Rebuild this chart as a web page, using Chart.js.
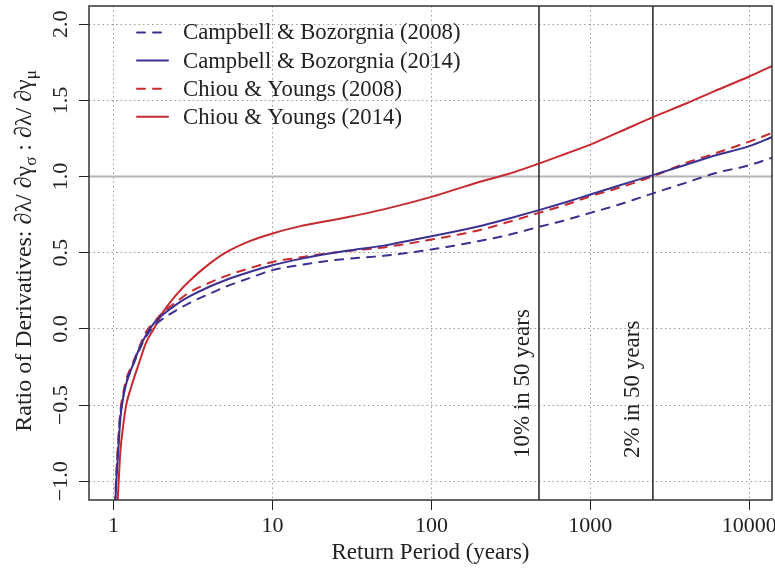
<!DOCTYPE html>
<html>
<head>
<meta charset="utf-8">
<script src="https://cdn.jsdelivr.net/npm/chart.js@4.4.1/dist/chart.umd.min.js"></script>
<style>
html, body { margin: 0; padding: 0; background: #fff; }
</style>
</head>
<body>
<canvas id="myChart" width="775" height="571"></canvas>
<script>
'use strict';

var returnPeriods = [1.02, 1.04, 1.07, 1.1, 1.15, 1.2, 1.3, 1.45, 1.6, 1.8, 2, 2.5, 3, 4, 5, 7, 10, 15, 20, 30, 50, 100, 200, 300, 475, 700, 1000, 1500, 2475, 4000, 6000, 10000, 14000];

var cb2008 = [-1.17, -0.97, -0.75, -0.57, -0.44, -0.35, -0.26, -0.14, -0.05, 0.02, 0.06, 0.125, 0.17, 0.23, 0.275, 0.33, 0.386, 0.42, 0.44, 0.461, 0.48, 0.522, 0.577, 0.615, 0.67, 0.715, 0.762, 0.815, 0.89, 0.96, 1.02, 1.075, 1.125];
var cb2014 = [-1.2, -1.0, -0.8, -0.6, -0.45, -0.36, -0.255, -0.13, -0.04, 0.04, 0.086, 0.163, 0.213, 0.277, 0.318, 0.37, 0.418, 0.46, 0.485, 0.515, 0.547, 0.609, 0.674, 0.722, 0.78, 0.832, 0.883, 0.94, 1.01, 1.078, 1.137, 1.2, 1.26];
var cy2008 = [-1.15, -0.95, -0.73, -0.55, -0.42, -0.33, -0.24, -0.12, -0.02, 0.045, 0.1, 0.18, 0.24, 0.303, 0.345, 0.395, 0.44, 0.47, 0.49, 0.512, 0.535, 0.587, 0.648, 0.7, 0.762, 0.815, 0.871, 0.925, 1.003, 1.09, 1.15, 1.23, 1.288];
var cy2014 = [-1.5, -1.3, -1.05, -0.82, -0.63, -0.5, -0.37, -0.22, -0.09, 0.005, 0.094, 0.228, 0.315, 0.427, 0.498, 0.572, 0.627, 0.675, 0.7, 0.735, 0.785, 0.867, 0.965, 1.015, 1.086, 1.15, 1.21, 1.29, 1.39, 1.48, 1.56, 1.657, 1.727];

var seriesLabels = ['Campbell & Bozorgnia (2008)', 'Campbell & Bozorgnia (2014)', 'Chiou & Youngs (2008)', 'Chiou & Youngs (2014)'];

var xTicks = [1, 10, 100, 1000, 10000];
var yTicks = [-1, -0.5, 0, 0.5, 1, 1.5, 2];

var markerPeriods = [475, 2475];
var markerLabels = ['10% in 50 years', '2% in 50 years'];

(function() {

    var BLUE = '#3b3191';
    var RED = '#c62a2f';
    var FONT = '"Liberation Serif", "Times New Roman", serif';
    var FS = 23;

    function points(vals) {
        return vals.map(function(v, i) { return { x: returnPeriods[i], y: v }; });
    }

    function minus(s) {
        return s.replace('-', '\u2212');
    }

    var extras = {
        id: 'extras',
        beforeDatasetsDraw: function(chart) {
            var ctx = chart.ctx, a = chart.chartArea;
            var xs = chart.scales.x, ys = chart.scales.y;
            ctx.save();
            ctx.beginPath();
            ctx.rect(a.left, a.top, a.width, a.height);
            ctx.clip();
            var y1 = ys.getPixelForValue(1);
            ctx.strokeStyle = '#b5b5b5';
            ctx.lineWidth = 2;
            ctx.beginPath();
            ctx.moveTo(a.left, y1);
            ctx.lineTo(a.right, y1);
            ctx.stroke();
            ctx.strokeStyle = '#222';
            ctx.lineWidth = 1.5;
            markerPeriods.forEach(function(p) {
                var px = xs.getPixelForValue(p);
                ctx.beginPath();
                ctx.moveTo(px, a.top);
                ctx.lineTo(px, a.bottom);
                ctx.stroke();
            });
            ctx.restore();
        },
        afterDraw: function(chart) {
            var ctx = chart.ctx, a = chart.chartArea;
            var xs = chart.scales.x, ys = chart.scales.y;
            ctx.save();

            // frame
            ctx.strokeStyle = '#333';
            ctx.lineWidth = 1.5;
            ctx.strokeRect(a.left, a.top, a.width, a.height);

            ctx.fillStyle = '#222';
            ctx.font = '22px ' + FONT;

            // y tick labels, rotated like R
            yTicks.forEach(function(v) {
                ctx.save();
                ctx.translate(a.left - 22, ys.getPixelForValue(v));
                ctx.rotate(-Math.PI / 2);
                ctx.textAlign = 'center';
                ctx.textBaseline = 'alphabetic';
                ctx.fillText(minus(v.toFixed(1)), 0, 0);
                ctx.restore();
            });

            ctx.font = FS + 'px ' + FONT;

            // marker labels
            var offs = [9.5, 13.5];
            markerPeriods.forEach(function(p, i) {
                ctx.save();
                ctx.translate(xs.getPixelForValue(p) - offs[i], a.bottom - 42);
                ctx.rotate(-Math.PI / 2);
                ctx.textAlign = 'left';
                ctx.textBaseline = 'alphabetic';
                ctx.fillText(markerLabels[i], 0, 0);
                ctx.restore();
            });

            // legend
            ctx.font = '22.7px ' + FONT;
            chart.data.datasets.forEach(function(ds, i) {
                var ly = a.top + 26.5 + i * 28.1;
                ctx.save();
                ctx.strokeStyle = ds.borderColor;
                ctx.lineWidth = 2;
                ctx.lineCap = 'round';
                ctx.setLineDash(ds.borderDash || []);
                ctx.beginPath();
                ctx.moveTo(137, ly);
                ctx.lineTo(168, ly);
                ctx.stroke();
                ctx.restore();
                ctx.textAlign = 'left';
                ctx.textBaseline = 'middle';
                ctx.fillText(ds.label, 183, ly + 1);
            });

            // y axis title with subscripts
            var parts = [
                ['Ratio of Derivatives: \u2202\u03bb/ \u2202\u03b3', false],
                ['\u03c3', true],
                [' : \u2202\u03bb/ \u2202\u03b3', false],
                ['\u03bc', true]
            ];
            var total = 0;
            parts.forEach(function(pt) {
                ctx.font = (pt[1] ? '17px ' : '24px ') + FONT;
                pt.push(ctx.measureText(pt[0]).width);
                total += pt[2];
            });
            ctx.translate(31, (a.top + a.bottom) / 2 - 2);
            ctx.rotate(-Math.PI / 2);
            ctx.textAlign = 'left';
            ctx.textBaseline = 'alphabetic';
            var cx = -total / 2;
            parts.forEach(function(pt) {
                ctx.font = (pt[1] ? '17px ' : '24px ') + FONT;
                ctx.fillText(pt[0], cx, pt[1] ? 5 : 0);
                cx += pt[2];
            });
            ctx.restore();
        }
    };

    var ctx = document.getElementById('myChart');
    var myChart = new Chart(ctx, {
        type: 'line',
        data: {
            datasets: [{
                label: seriesLabels[0],
                data: points(cb2008),
                borderColor: BLUE,
                borderDash: [8, 8]
            }, {
                label: seriesLabels[1],
                data: points(cb2014),
                borderColor: BLUE
            }, {
                label: seriesLabels[2],
                data: points(cy2008),
                borderColor: RED,
                borderDash: [8, 8]
            }, {
                label: seriesLabels[3],
                data: points(cy2014),
                borderColor: RED
            }]
        },
        options: {
            responsive: false,
            animation: false,
            layout: { padding: { top: 6, right: 3, left: 0, bottom: 0 } },
            elements: {
                point: { radius: 0 },
                line: { borderWidth: 2, borderCapStyle: 'round', cubicInterpolationMode: 'monotone', fill: false }
            },
            plugins: {
                legend: { display: false },
                tooltip: { enabled: false }
            },
            scales: {
                x: {
                    type: 'logarithmic',
                    min: Math.pow(10, -0.153),
                    max: Math.pow(10, 4.143),
                    afterBuildTicks: function(scale) {
                        scale.ticks = xTicks.map(function(v) { return { value: v }; });
                    },
                    afterFit: function(scale) {
                        scale.height = 71;
                        scale.paddingLeft = 0;
                        scale.paddingRight = 0;
                    },
                    grid: { color: '#9a9a9a', lineWidth: 1, tickColor: '#222', tickLength: 10, tickWidth: 1 },
                    border: { display: false, dash: [1.5, 3] },
                    ticks: {
                        color: '#222',
                        padding: 3,
                        maxRotation: 0,
                        autoSkip: false,
                        font: { family: FONT, size: 22 },
                        callback: function(v) { return String(v); }
                    },
                    title: {
                        display: true,
                        text: 'Return Period (years)',
                        color: '#222',
                        font: { family: FONT, size: FS },
                        padding: { top: 0, bottom: 4 }
                    }
                },
                y: {
                    type: 'linear',
                    min: -1.123,
                    max: 2.12,
                    afterBuildTicks: function(scale) {
                        scale.ticks = yTicks.map(function(v) { return { value: v }; });
                    },
                    afterFit: function(scale) {
                        scale.width = 89;
                        scale.paddingTop = 0;
                        scale.paddingBottom = 0;
                    },
                    grid: { color: '#9a9a9a', lineWidth: 1, tickColor: '#222', tickLength: 10, tickWidth: 1 },
                    border: { display: false, dash: [1.5, 3] },
                    ticks: { display: false }
                }
            }
        },
        plugins: [extras]
    });
})();
</script>
</body>
</html>
